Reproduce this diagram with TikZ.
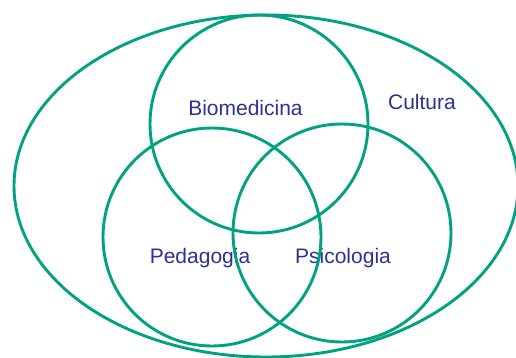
\documentclass[tikz,border=0pt]{standalone}
\usepackage{fontspec}
\setmainfont{Liberation Sans}
\usetikzlibrary{shapes.geometric}
\definecolor{setgreen}{RGB}{0,162,128}
\definecolor{setblue}{RGB}{46,49,146}
\tikzstyle{area} = [draw=setgreen, line width=2.9pt, inner sep=0pt]
\tikzstyle{set} = [area, circle, minimum size=218pt]
\tikzstyle{setname} = [text=setblue, anchor=base, inner sep=0pt,
    font=\fontsize{21}{25}\selectfont]

\begin{document}
\begin{tikzpicture}[x=1pt, y=-1pt]
        \useasboundingbox (0,0) rectangle (516,358);
        % We start by placing the names
        \node [setname] (tbio) at (245.5,115.7) {Biomedicina};
        \node [setname] (tcul) at (422,110) {Cultura};
        \node [setname] (tped) at (200,263.3) {Pedagogia};
        \node [setname] (tpsi) at (343,263.3) {Psicologia};

        % Then the sets on top of them
        \node [area, ellipse, minimum width=504pt, minimum height=342pt]
        (cultura) at (266,186) {};
        \node [set] (bio) at (259,124) {};
        \node [set] (ped) at (212,237) {};
        \node [set] (psi) at (342,233) {};
    \end{tikzpicture}
\end{document}
